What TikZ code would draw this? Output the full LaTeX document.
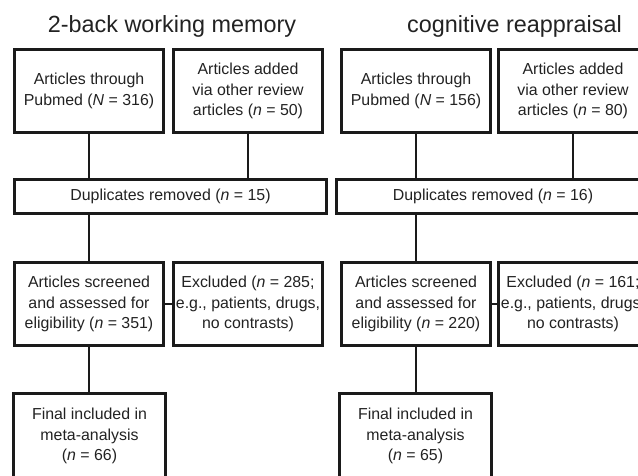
\documentclass[tikz,border=0pt]{standalone}
\usepackage{fontspec}
\setmainfont{Liberation Sans}
\definecolor{ink}{HTML}{222222}
\definecolor{rule}{HTML}{1A1A1A}
\begin{document}
\begin{tikzpicture}[x=1pt,y=-1pt,
  box/.style={draw=rule, line width=2.8pt, align=center, inner sep=0pt,
    font=\fontsize{15.9}{20.5}\selectfont, text=ink,
    minimum width=149.2pt, minimum height=83.2pt},
  widebox/.style={box, minimum height=34.2pt},
  ttl/.style={font=\fontsize{23.4}{28}\selectfont, text=ink, anchor=base, inner sep=0pt},
  link/.style={draw=rule, line width=2.6pt}]
\useasboundingbox (0,0) rectangle (638,475);
\clip (0,0) rectangle (638,475);
% titles
\node[ttl] (t1) at (172,32.3) {2-back working memory};
\node[ttl] (t2) at (514.5,32.3) {cognitive reappraisal};
% left column
\node[box] (a1) at (89,91) {Articles through\\Pubmed (\textit{N} = 316)};
\node[box] (a2) at (248,91) {Articles added\\via other review\\articles (\textit{n} = 50)};
\node[widebox, minimum width=312.2pt] (dl) at (170.5,196.5) {Duplicates removed (\textit{n} = 15)};
\node[box] (sl) at (89,304) {Articles screened\\and assessed for\\eligibility (\textit{n} = 351)};
\node[box] (el) at (248,304) {Excluded (\textit{n} = 285;\\e.g., patients, drugs,\\no contrasts)};
\node[box, minimum width=152.2pt, minimum height=102pt] (fl) at (89.5,444.6) {Final included in\\meta-analysis\\(\textit{n} = 66)\\\mbox{}};
% right column
\node[box] (b1) at (416,91) {Articles through\\Pubmed (\textit{N} = 156)};
\node[box] (b2) at (573,91) {Articles added\\via other review\\articles (\textit{n} = 80)};
\node[widebox, minimum width=313.2pt] (dr) at (493,196.5) {Duplicates removed (\textit{n} = 16)};
\node[box] (sr) at (416,304) {Articles screened\\and assessed for\\eligibility (\textit{n} = 220)};
\node[box] (er) at (573,304) {Excluded (\textit{n} = 161;\\e.g., patients, drugs,\\no contrasts)};
\node[box, minimum width=152.2pt, minimum height=102pt] (fr) at (415.5,444.6) {Final included in\\meta-analysis\\(\textit{n} = 65)\\\mbox{}};
% connectors left
\draw[link] (a1.south) -- (a1.south |- dl.north);
\draw[link] (a2.south) -- (a2.south |- dl.north);
\draw[link] (sl.north |- dl.south) -- (sl.north);
\draw[link] (sl.east) -- (el.west);
\draw[link] (sl.south) -- (sl.south |- fl.north);
% connectors right
\draw[link] (b1.south) -- (b1.south |- dr.north);
\draw[link] (b2.south) -- (b2.south |- dr.north);
\draw[link] (sr.north |- dr.south) -- (sr.north);
\draw[link] (sr.east) -- (er.west);
\draw[link] (sr.south) -- (sr.south |- fr.north);
\end{tikzpicture}
\end{document}
